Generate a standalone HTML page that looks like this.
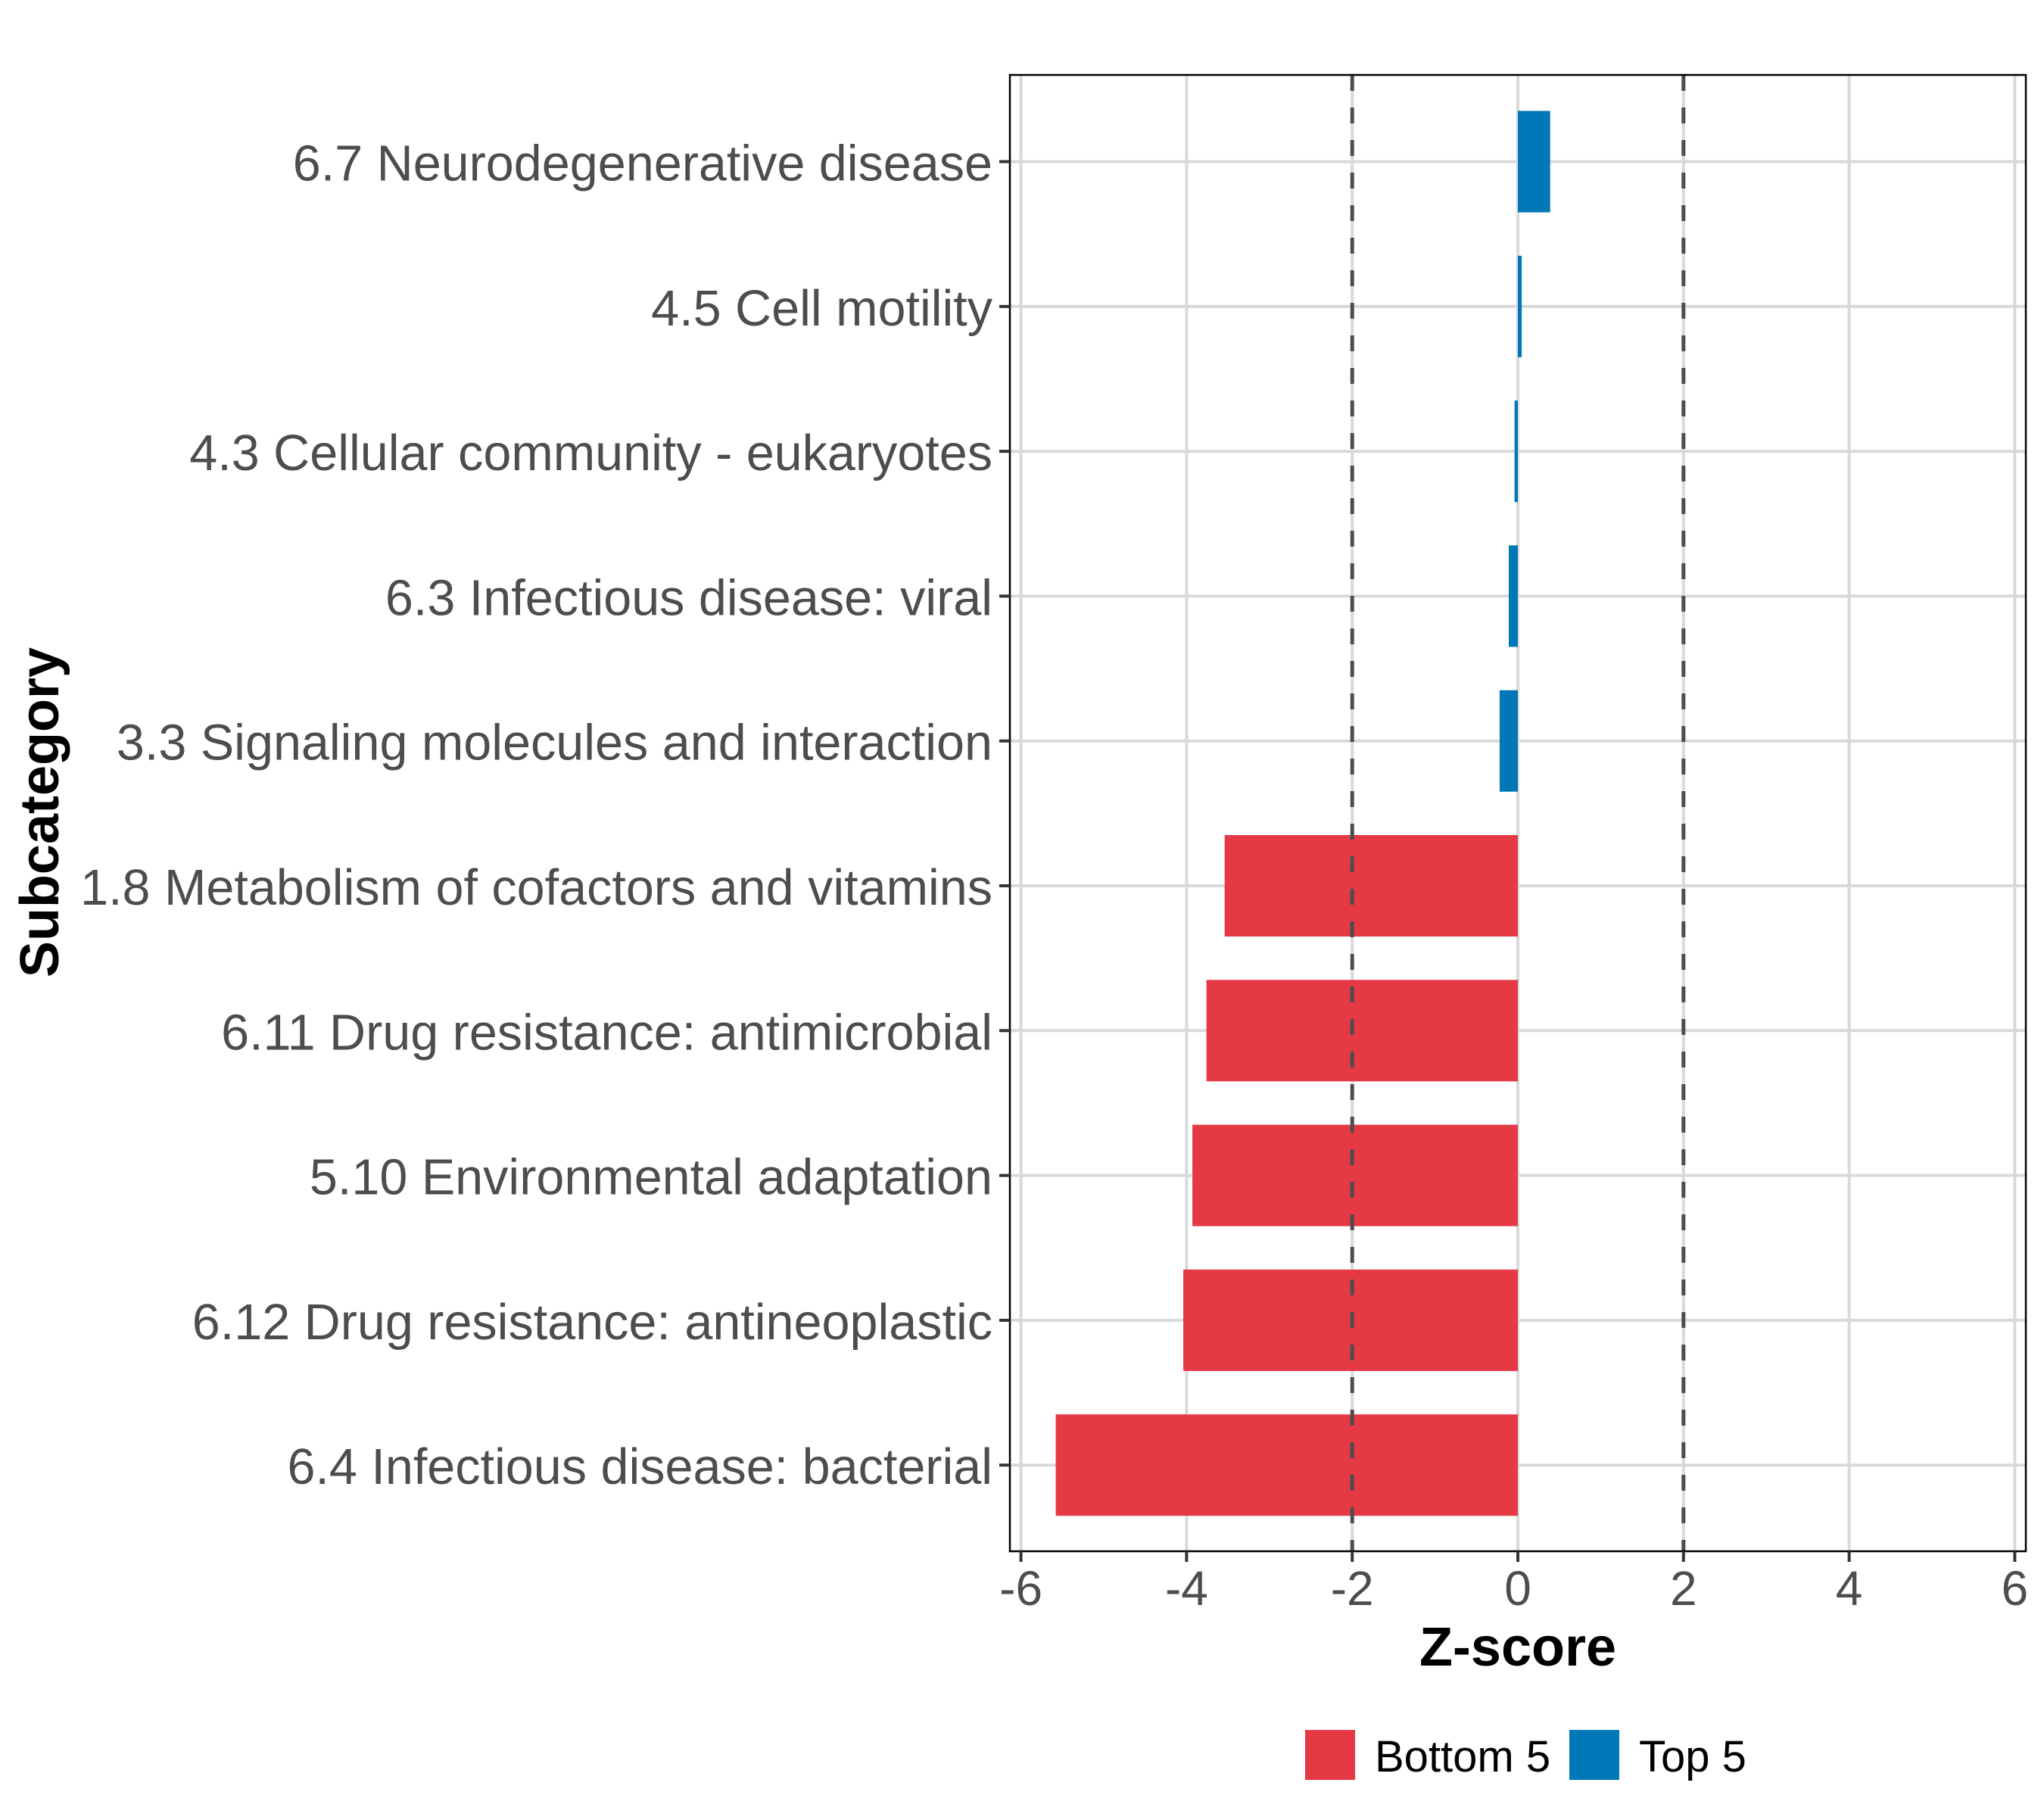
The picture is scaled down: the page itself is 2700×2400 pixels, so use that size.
<!DOCTYPE html>
<html><head><meta charset="utf-8"><style>
html,body{margin:0;padding:0;background:#fff;}
svg{display:block;font-family:"Liberation Sans",sans-serif;}
</style></head><body>
<svg id="chart" width="2700" height="2400" viewBox="0 0 2700 2400" xmlns="http://www.w3.org/2000/svg">
<rect x="0" y="0" width="2700" height="2400" fill="#fff"/>
<g id="grid"></g>
<g id="bars"></g>
<g id="refs"></g>
<rect x="1334" y="99" width="1342" height="1950" fill="none" stroke="#000" stroke-width="2.5"/>
<g id="yaxis"></g>
<g id="xaxis"></g>
<text x="2005" y="2200" text-anchor="middle" font-size="72" font-weight="bold" fill="#000">Z-score</text>
<text transform="translate(77,1073) rotate(-90)" text-anchor="middle" font-size="72" font-weight="bold" fill="#000">Subcategory</text>
<g>
<g>
<rect x="1724" y="2285" width="66" height="66" fill="#E63946"/>
<text x="1816" y="2340" font-size="58" fill="#000">Bottom 5</text>
</g>
<g>
<rect x="2073" y="2285" width="66" height="66" fill="#0077B6"/>
<text x="2165" y="2340" font-size="58" fill="#000">Top 5</text>
</g>
</g>
</svg>
<script>
const categories = ["6.7 Neurodegenerative disease","4.5 Cell motility","4.3 Cellular community - eukaryotes","6.3 Infectious disease: viral","3.3 Signaling molecules and interaction","1.8 Metabolism of cofactors and vitamins","6.11 Drug resistance: antimicrobial","5.10 Environmental adaptation","6.12 Drug resistance: antineoplastic","6.4 Infectious disease: bacterial"];
const zScores = [0.39, 0.047, -0.04, -0.11, -0.22, -3.54, -3.76, -3.93, -4.04, -5.58];
const groups = ["Top 5","Top 5","Top 5","Top 5","Top 5","Bottom 5","Bottom 5","Bottom 5","Bottom 5","Bottom 5"];
const xTicks = [-6,-4,-2,0,2,4,6];
const xTickLabels = ["-6","-4","-2","0","2","4","6"];
const refLines = [-2, 2];

const NS = "http://www.w3.org/2000/svg";
const X0 = 2005, XU = 109.4, Y0 = 213.5, YS = 191.3, BH = 134;
const PL = 1334, PR = 2676, PT = 99, PB = 2049;
function xs(v){ return X0 + v*XU; }
function ys(i){ return Y0 + i*YS; }
function mk(tag, attrs, parent){ const e=document.createElementNS(NS,tag); for(const k in attrs) e.setAttribute(k,attrs[k]); parent.appendChild(e); return e; }
const grid=document.getElementById('grid'), bars=document.getElementById('bars'), refs=document.getElementById('refs'), yaxis=document.getElementById('yaxis'), xaxis=document.getElementById('xaxis');
const colors = {"Top 5":"#0077B6","Bottom 5":"#E63946"};

xTicks.forEach((t,i)=>{
  const g = mk('line',{x1:xs(t),x2:xs(t),y1:PT,y2:PB,stroke:'#d9d9d9','stroke-width':4},grid);
  
  
  const tk = mk('line',{x1:xs(t),x2:xs(t),y1:PB,y2:PB+14,stroke:'#333','stroke-width':4},xaxis);
  
  
  const tl = mk('text',{x:xs(t),y:2120,'text-anchor':'middle','font-size':64,fill:'#4d4d4d'},xaxis);
  tl.textContent = xTickLabels[i];
  
  
});
categories.forEach((c,i)=>{
  const g = mk('line',{x1:PL,x2:PR,y1:ys(i),y2:ys(i),stroke:'#d9d9d9','stroke-width':4},grid);
  
  
  const v = zScores[i];
  const b = mk('rect',{x:Math.min(xs(0),xs(v)),y:ys(i)-BH/2,width:Math.max(Math.abs(xs(v)-xs(0)),1),height:BH,fill:colors[groups[i]]},bars);
  
  
  const tk = mk('line',{x1:PL-14,x2:PL,y1:ys(i),y2:ys(i),stroke:'#333','stroke-width':4},yaxis);
  
  
  const tl = mk('text',{x:1311,y:ys(i)+25,'text-anchor':'end','font-size':66.5,fill:'#4d4d4d'},yaxis);
  tl.textContent = c;
  
  
});
refLines.forEach(r=>{
  const l = mk('line',{x1:xs(r),x2:xs(r),y1:PT,y2:PB,stroke:'#4d4d4d','stroke-width':5,'stroke-dasharray':'21 22'},refs);
  
  
});
</script>
</body></html>
